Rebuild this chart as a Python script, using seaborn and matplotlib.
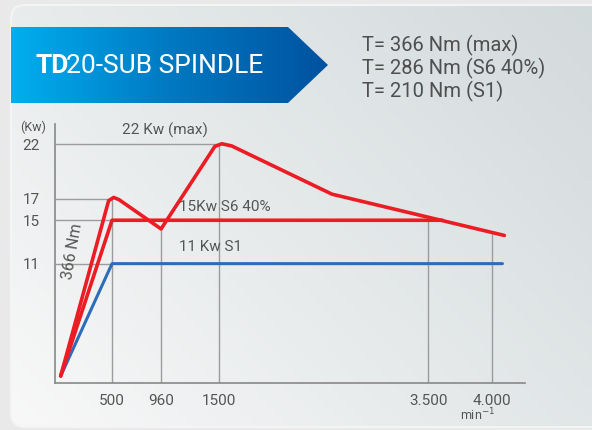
import numpy as np
import matplotlib.pyplot as plt
import seaborn as sns
from matplotlib.patches import FancyBboxPatch, Polygon
from matplotlib.colors import LinearSegmentedColormap
from matplotlib.scale import FuncScale

# data
rpm_ticks = [500, 960, 1500, 3500, 4000]
rpm_tick_labels = ["500", "960", "1500", "3.500", "4.000"]
kw_ticks = [11, 15, 17, 22]

rpm_max = [50, 470, 515, 565, 960, 1460, 1525, 1620, 2580, 4095]
kw_max = [0.65, 16.8, 17.1, 16.9, 14.2, 21.8, 22.05, 21.85, 17.4, 13.6]
rpm_s6 = [50, 500, 3610]
kw_s6 = [0.65, 15, 15]
rpm_s1 = [50, 500, 4080]
kw_s1 = [0.65, 11, 11]

torque_lines = ["T= 366 Nm (max)", "T= 286 Nm (S6 40%)", "T= 210 Nm (S1)"]

RED = "#ec1c24"
BLUE = "#2c6cb8"
GRID = "#9c9c9c"
TXT = "#555555"

sns.set_style("white")
plt.rcParams["font.family"] = ["Roboto", "DejaVu Sans"]

fig = plt.figure(figsize=(5.92, 4.30), dpi=100)
fig.patch.set_facecolor("#e9e9e9")

# background card + banner (pixel coords)
bg = fig.add_axes([0, 0, 1, 1], zorder=0)
bg.set_xlim(0, 592)
bg.set_ylim(430, 0)
bg.axis("off")

card = FancyBboxPatch((11, 5), 620, 422, boxstyle="round,pad=0,rounding_size=14",
                      facecolor="none", edgecolor="#f4f4f4", lw=1.5)
bg.add_patch(card)
gx, gy = np.meshgrid(np.linspace(0, 1, 200), np.linspace(0, 1, 150))
card_grad = 0.6 * gx + 0.4 * (1 - gy)
card_cmap = LinearSegmentedColormap.from_list("card", ["#f8f8f8", "#e5e9ea", "#d3dadc"])
im = bg.imshow(card_grad, cmap=card_cmap, extent=(11, 592, 427, 5), aspect="auto", zorder=0)
im.set_clip_path(card)

banner = Polygon([(11, 27), (288, 27), (328, 65), (288, 103), (11, 103)],
                 closed=True, facecolor="none", edgecolor="none")
bg.add_patch(banner)
ban_cmap = LinearSegmentedColormap.from_list("ban", ["#00aeef", "#0079c2", "#0052a0"])
bim = bg.imshow(np.linspace(0, 1, 200)[None, :], cmap=ban_cmap, extent=(11, 328, 103, 27),
                aspect="auto", zorder=1)
bim.set_clip_path(banner)

bg.text(35, 66, "TD", color="white", fontsize=19, fontweight="bold", va="center", ha="left")
bg.text(66, 66, "20-SUB SPINDLE", color="white", fontsize=19, va="center", ha="left")
for i, line in enumerate(torque_lines):
    bg.text(362, 45 + 23 * i, line, color="#4f4f4f", fontsize=14.5,
            va="center", ha="left")

# main chart
ax = fig.add_axes([55 / 592, 47 / 430, 470 / 592, 259 / 430], zorder=2)
ax.patch.set_alpha(0)

knots_rpm = [0, 500, 960, 1500, 3500, 4000, 4300]
knots_pos = [55, 112, 161, 219, 428, 492, 530]
ax.set_xscale(FuncScale(ax.xaxis, (lambda x: np.interp(x, knots_rpm, knots_pos),
                                   lambda p: np.interp(p, knots_pos, knots_rpm))))
ax.set_xlim(0, 4258)
ax.set_ylim(0, 23.87)

# partial grid lines
ax.hlines([22, 17, 15, 11], 0, [1500, 500, 3500, 500], color=GRID, lw=1, zorder=1)
ax.vlines(rpm_ticks, 0, [17, 14.2, 22, 15, 13.8], color=GRID, lw=1, zorder=1)

sns.lineplot(x=rpm_s1, y=kw_s1, ax=ax, color=BLUE, lw=2.2, estimator=None, zorder=3)
sns.lineplot(x=rpm_s6, y=kw_s6, ax=ax, color=RED, lw=2.6, estimator=None, zorder=3)
sns.lineplot(x=rpm_max, y=kw_max, ax=ax, color=RED, lw=2.6, estimator=None, zorder=3)

ax.set_xticks(rpm_ticks)
ax.set_xticklabels(rpm_tick_labels)
ax.set_yticks(kw_ticks)
ax.tick_params(axis="x", length=5, width=1, color="#888888", pad=3, labelsize=11, labelcolor=TXT)
ax.tick_params(axis="y", length=0, pad=11, labelsize=11, labelcolor=TXT)
for s in ["top", "right"]:
    ax.spines[s].set_visible(False)
for s in ["left", "bottom"]:
    ax.spines[s].set_color("#888888")
    ax.spines[s].set_linewidth(1.2)

ax.text(1000, 23.3, "22 Kw (max)", color=TXT, fontsize=11, ha="center", va="center")
ax.text(1130, 16.2, "15Kw S6 40%", color=TXT, fontsize=11, ha="left", va="center")
ax.text(1130, 12.5, "11 Kw S1", color=TXT, fontsize=11, ha="left", va="center")
ax.text(150, 12.1, "366 Nm", color=TXT, fontsize=11.5, rotation=80, ha="center", va="center")

bg.text(33, 127, "(Kw)", color=TXT, fontsize=9, ha="center", va="center")
bg.text(478, 415, "min$^{-1}$", color=TXT, fontsize=9, ha="center", va="center")

fig.savefig("out.png", dpi=100)
